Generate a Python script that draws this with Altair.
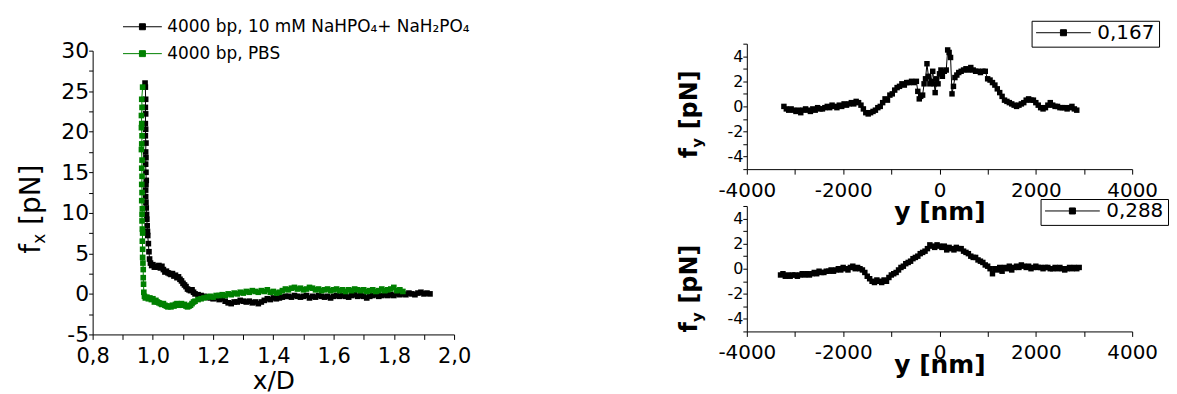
import altair as alt
import pandas as pd

FONT = "DejaVu Sans"

# ---------------- data: left panel (f_x vs x/D) ----------------
LABEL_BUF = "4000 bp, 10 mM NaHPO₄+ NaH₂PO₄"
LABEL_PBS = "4000 bp, PBS"

buf_x = [0.974, 0.975, 0.976, 0.975, 0.976, 0.975, 0.976, 0.975, 0.977, 0.976,
         0.977, 0.976, 0.977, 0.978, 0.977, 0.976, 0.976, 0.977, 0.978, 0.979,
         0.980, 0.981, 0.982, 0.983, 0.985, 0.987, 0.989, 0.992, 0.996, 1.000,
         1.005, 1.010, 1.015, 1.020, 1.025, 1.030, 1.035, 1.040, 1.045, 1.050,
         1.055, 1.060, 1.065, 1.070, 1.075, 1.080, 1.085, 1.090, 1.095, 1.100,
         1.105, 1.110, 1.115, 1.120, 1.125, 1.130, 1.135, 1.140, 1.150, 1.160,
         1.170, 1.180, 1.190, 1.200, 1.210, 1.220, 1.230, 1.240, 1.250, 1.260,
         1.270, 1.280, 1.290, 1.300, 1.310, 1.320, 1.330, 1.340, 1.350, 1.360,
         1.370, 1.380, 1.390, 1.400, 1.410, 1.420, 1.430, 1.440, 1.450, 1.460,
         1.470, 1.480, 1.490, 1.500, 1.510, 1.520, 1.530, 1.540, 1.550, 1.560,
         1.570, 1.580, 1.590, 1.600, 1.610, 1.620, 1.630, 1.640, 1.650, 1.660,
         1.670, 1.680, 1.690, 1.700, 1.710, 1.720, 1.730, 1.740, 1.750, 1.760,
         1.770, 1.780, 1.790, 1.800, 1.810, 1.820, 1.830, 1.840, 1.850, 1.860,
         1.870, 1.880, 1.890, 1.900, 1.910, 1.920]
buf_y = [26.0, 25.5, 24.0, 23.0, 22.2, 21.0, 20.3, 19.5, 18.6, 17.5,
         16.8, 16.0, 15.0, 14.0, 13.5, 12.8, 12.0, 11.3, 10.6, 9.8,
         9.2, 8.4, 7.7, 7.2, 6.2, 5.2, 4.3, 3.8, 3.5, 3.6,
         3.3, 3.4, 3.3, 3.5, 3.2, 3.4, 3.0, 2.7, 2.8, 2.6,
         2.5, 2.4, 2.5, 2.2, 2.3, 2.0, 2.1, 1.8, 1.6, 1.3,
         1.1, 0.9, 0.6, 0.5, 0.4, 0.5, 0.2, 0.0, -0.1, -0.2,
         -0.3, -0.4, -0.5, -0.6, -0.5, -0.7, -0.6, -0.9, -1.1, -1.2,
         -1.0, -1.0, -0.8, -0.9, -1.0, -0.9, -1.1, -1.0, -1.2, -1.0,
         -0.8, -0.6, -0.7, -0.5, -0.6, -0.5, -0.4, -0.3, -0.3, -0.4,
         -0.2, -0.3, -0.4, -0.3, -0.2, -0.5, -0.3, -0.4, -0.2, -0.3,
         -0.4, -0.3, -0.5, -0.3, -0.2, -0.3, -0.2, -0.3, -0.4, -0.2,
         -0.1, -0.3, -0.2, -0.3, -0.5, -0.3, -0.2, -0.1, -0.3, -0.2,
         -0.1, -0.2, -0.1, -0.2, 0.0, -0.1, 0.0, -0.1, 0.1, 0.0,
         -0.1, 0.1, 0.2, 0.0, 0.1, 0.0]

pbs_x = [0.966, 0.963, 0.964, 0.962, 0.963, 0.962, 0.964, 0.963, 0.962, 0.964,
         0.963, 0.964, 0.963, 0.964, 0.963, 0.965, 0.964, 0.964, 0.965, 0.966,
         0.965, 0.966, 0.966, 0.967, 0.968, 0.968, 0.969, 0.970, 0.972, 0.975,
         0.980, 0.985, 0.990, 0.995, 1.000, 1.005, 1.010, 1.015, 1.020, 1.025,
         1.030, 1.035, 1.040, 1.045, 1.050, 1.055, 1.060, 1.065, 1.070, 1.075,
         1.080, 1.085, 1.090, 1.095, 1.100, 1.105, 1.110, 1.115, 1.120, 1.125,
         1.130, 1.135, 1.140, 1.150, 1.160, 1.170, 1.180, 1.190, 1.200, 1.210,
         1.220, 1.230, 1.240, 1.250, 1.260, 1.270, 1.280, 1.290, 1.300, 1.310,
         1.320, 1.330, 1.340, 1.350, 1.360, 1.370, 1.380, 1.390, 1.400, 1.410,
         1.420, 1.430, 1.440, 1.450, 1.460, 1.470, 1.480, 1.490, 1.500, 1.510,
         1.520, 1.530, 1.540, 1.550, 1.560, 1.570, 1.580, 1.590, 1.600, 1.610,
         1.620, 1.630, 1.640, 1.650, 1.660, 1.670, 1.680, 1.690, 1.700, 1.710,
         1.720, 1.730, 1.740, 1.750, 1.760, 1.770, 1.780, 1.790, 1.800, 1.810,
         1.820, 1.830]
pbs_y = [25.5, 24.0, 23.0, 22.0, 21.0, 20.5, 19.5, 18.5, 17.8, 16.5,
         15.5, 14.5, 13.5, 12.5, 11.5, 10.5, 9.8, 9.0, 8.0, 7.5,
         6.5, 5.5, 4.5, 3.8, 3.0, 2.0, 1.2, 0.2, -0.3, -0.5,
         -0.4, -0.6, -0.5, -0.7, -0.6, -1.0, -0.8, -1.0, -1.1, -1.2,
         -1.3, -1.2, -1.4, -1.5, -1.6, -1.5, -1.6, -1.4, -1.5, -1.3,
         -1.2, -1.4, -1.3, -1.2, -1.4, -1.3, -1.5, -1.6, -1.5, -1.4,
         -1.2, -1.0, -0.9, -0.7, -0.6, -0.5, -0.4, -0.3, -0.4, -0.2,
         -0.2, -0.1, -0.2, 0.0, -0.1, 0.1, 0.0, 0.2, 0.1, 0.3,
         0.2, 0.4, 0.3, 0.2, 0.4, 0.3, 0.5, 0.2, 0.3, 0.1,
         0.2, 0.4, 0.6, 0.5, 0.7, 0.8, 0.6, 0.7, 0.5, 0.6,
         0.8, 0.7, 0.5, 0.6, 0.4, 0.5, 0.6, 0.4, 0.5, 0.6,
         0.4, 0.5, 0.3, 0.5, 0.4, 0.6, 0.5, 0.4, 0.5, 0.3,
         0.4, 0.5, 0.3, 0.4, 0.6, 0.4, 0.5, 0.6, 0.8, 0.4,
         0.5, 0.3]

# ---------------- data: right panels (f_y vs y) ----------------
LABEL_167 = "0,167"
LABEL_288 = "0,288"

a167_x = [-3230, -3180, -3130, -3080, -3030, -2980, -2930, -2880, -2830, -2780,
          -2730, -2680, -2630, -2580, -2530, -2480, -2430, -2380, -2330, -2280,
          -2230, -2180, -2130, -2080, -2030, -1980, -1930, -1880, -1830, -1780,
          -1730, -1680, -1630, -1580, -1530, -1480, -1430, -1380, -1330, -1280,
          -1230, -1180, -1130, -1080, -1030, -980, -930, -880, -830, -780,
          -730, -680, -630, -580, -530, -480, -450, -420, -390, -350,
          -320, -290, -260, -230, -200, -170, -140, -110, -90, -60,
          -30, 0, 30, 60, 100, 140, 170, 200, 230, 260,
          290, 320, 360, 400, 450, 500, 550, 600, 650, 700,
          750, 800, 850, 900, 950, 1000, 1050, 1100, 1150, 1200,
          1250, 1300, 1350, 1400, 1450, 1500, 1550, 1600, 1650, 1700,
          1750, 1800, 1850, 1900, 1950, 2000, 2050, 2100, 2150, 2200,
          2250, 2300, 2350, 2400, 2450, 2500, 2550, 2600, 2650, 2700,
          2750, 2800, 2850]
a167_y = [0.0, -0.2, -0.3, -0.2, -0.3, -0.4, -0.3, -0.5, -0.3, -0.2,
          -0.3, -0.4, -0.2, -0.3, -0.1, -0.2, -0.2, -0.1, 0.0, -0.1,
          0.1, 0.0, -0.1, 0.1, 0.0, 0.2, 0.1, 0.2, 0.3, 0.2,
          0.4, 0.3, 0.1, -0.2, -0.5, -0.6, -0.5, -0.4, -0.3, -0.1,
          0.0, 0.3, 0.6, 0.5, 0.9, 1.0, 1.3, 1.5, 1.6, 1.8,
          1.7, 1.9, 1.9, 2.0, 1.9, 2.0, 1.2, 0.6, 0.8, 0.9,
          1.8, 2.2, 3.4, 2.4, 1.8, 2.0, 2.8, 1.8, 1.1, 2.2,
          1.8, 2.6, 2.9, 2.4, 2.8, 2.9, 4.5, 4.3, 3.9, 1.0,
          1.6, 2.3, 2.5, 2.7, 2.8, 2.9, 3.0, 2.9, 3.1, 2.9,
          2.8, 2.8, 2.7, 2.8, 2.8, 2.2, 2.1, 1.9, 1.7, 1.4,
          1.1, 0.8, 0.5, 0.4, 0.3, 0.2, 0.1, 0.0, 0.1, 0.2,
          0.3, 0.5, 0.6, 0.5, 0.5, 0.3, 0.1, -0.1, -0.2, -0.1,
          0.1, 0.3, 0.1, 0.0, 0.0, -0.1, -0.1, -0.1, -0.2, -0.1,
          0.0, -0.2, -0.3]

a288_x = [-3300, -3250, -3200, -3150, -3100, -3050, -3000, -2950, -2900, -2850,
          -2800, -2750, -2700, -2650, -2600, -2550, -2500, -2450, -2400, -2350,
          -2300, -2250, -2200, -2150, -2100, -2050, -2000, -1950, -1900, -1850,
          -1800, -1750, -1700, -1650, -1600, -1550, -1500, -1450, -1400, -1350,
          -1300, -1250, -1200, -1150, -1100, -1050, -1000, -950, -900, -850,
          -800, -750, -700, -650, -600, -550, -500, -450, -400, -350,
          -300, -250, -200, -150, -100, -50, 0, 50, 100, 150,
          200, 250, 300, 350, 400, 450, 500, 550, 600, 650,
          700, 750, 800, 850, 900, 950, 1000, 1050, 1100, 1150,
          1200, 1250, 1300, 1350, 1400, 1450, 1500, 1550, 1600, 1650,
          1700, 1750, 1800, 1850, 1900, 1950, 2000, 2050, 2100, 2150,
          2200, 2250, 2300, 2350, 2400, 2450, 2500, 2550, 2600, 2650,
          2700, 2750, 2800, 2850, 2900]
a288_y = [-0.5, -0.4, -0.6, -0.5, -0.6, -0.5, -0.5, -0.6, -0.5, -0.4,
          -0.5, -0.4, -0.5, -0.4, -0.3, -0.4, -0.2, -0.3, -0.3, -0.2,
          -0.2, -0.1, -0.2, -0.1, 0.0, -0.1, 0.1, 0.0, -0.1, 0.1,
          0.2, 0.0, 0.1, 0.0, -0.1, -0.3, -0.6, -0.8, -1.0, -1.1,
          -0.9, -1.0, -1.1, -0.9, -1.0, -0.7, -0.5, -0.4, -0.3, -0.1,
          0.1, 0.2, 0.4, 0.5, 0.6, 0.8, 0.9, 1.0, 1.2, 1.3,
          1.4, 1.6, 1.9, 1.8, 1.7, 1.9, 1.8, 1.7, 1.8, 1.5,
          1.7, 1.6, 1.5, 1.7, 1.6, 1.6, 1.4, 1.3, 1.2, 1.0,
          0.9, 0.9, 0.7, 0.6, 0.5, 0.3, 0.2, 0.0, -0.4, 0.0,
          -0.1, 0.1, -0.2, 0.1, 0.0, 0.2, -0.1, 0.1, 0.2, 0.1,
          0.3, 0.2, 0.1, 0.2, 0.0, 0.1, 0.2, 0.1, 0.1, 0.0,
          0.1, 0.1, 0.0, 0.0, 0.1, 0.0, 0.1, 0.0, -0.1, 0.0,
          0.1, 0.0, 0.1, 0.0, 0.1]

# ---------------- tables ----------------
left_df = pd.concat([
    pd.DataFrame({"sample": LABEL_BUF, "x": buf_x, "y": buf_y, "i": range(len(buf_x))}),
    pd.DataFrame({"sample": LABEL_PBS, "x": pbs_x, "y": pbs_y, "i": range(len(pbs_x))}),
])
top_df = pd.DataFrame({"angle": LABEL_167, "x": a167_x, "y": a167_y, "i": range(len(a167_x))})
bot_df = pd.DataFrame({"angle": LABEL_288, "x": a288_x, "y": a288_y, "i": range(len(a288_x))})

# ---------------- styles ----------------
LEFT_SYMBOL = "M-1,0H1M-0.154,-0.154H0.154V0.154H-0.154Z"
RIGHT_SYMBOL = "M-1,0H1M-0.11,-0.11H0.11V0.11H-0.11Z"

axis_common = dict(grid=False, domainColor="black", tickColor="black", labelColor="black",
                   titleColor="black", domainWidth=1, tickWidth=1, labelFont=FONT, titleFont=FONT)


def title_layer(parts):
    layers = []
    for text, size, weight, xx, yy in parts:
        layers.append(
            alt.Chart(pd.DataFrame({"t": [text]}))
            .mark_text(text=text, font=FONT, fontSize=size, fontWeight=weight, angle=270,
                       align="left", baseline="alphabetic", color="black")
            .encode(x=alt.value(xx), y=alt.value(yy))
        )
    return layers


# ---------------- left chart ----------------
left_x_ticks = [0.8, 0.9, 1.0, 1.1, 1.2, 1.3, 1.4, 1.5, 1.6, 1.7, 1.8, 1.9, 2.0]
left_y_ticks = [-5, -2.5, 0, 2.5, 5, 7.5, 10, 12.5, 15, 17.5, 20, 22.5, 25, 27.5, 30]

left_legend = alt.Legend(orient="none", legendX=30, legendY=-27, title=None,
                         symbolType=LEFT_SYMBOL, symbolSize=1521, symbolStrokeWidth=1,
                         clipHeight=20, rowPadding=7, labelFont=FONT, labelFontSize=17,
                         labelColor="black", labelOffset=5, padding=0, labelLimit=500)
left_color = alt.Color("sample:N", scale=alt.Scale(domain=[LABEL_BUF, LABEL_PBS],
                                                    range=["black", "#008000"]),
                       legend=left_legend)

lx = alt.X("x:Q", scale=alt.Scale(domain=[0.8, 2.0], nice=False, zero=False),
           axis=alt.Axis(values=left_x_ticks,
                         labelExpr="round(datum.value*10)%2==0 ? replace(format(datum.value,'.1f'),'.',',') : ''",
                         title="x/D", titleFontSize=25, titleFontWeight="normal", titlePadding=2,
                         labelFontSize=21, tickSize=5, labelPadding=6, labelFlush=False,
                         **axis_common))
ly = alt.Y("y:Q", scale=alt.Scale(domain=[-5, 30], range=[292, 7], nice=False, zero=False),
           axis=alt.Axis(values=left_y_ticks,
                         labelExpr="datum.value % 5 == 0 ? toString(datum.value) : ''",
                         title=None, labelFontSize=22, tickSize=4, labelPadding=0,
                         labelFlush=False, **axis_common))

lbase = alt.Chart(left_df)
left_line = lbase.mark_line(strokeWidth=1).encode(x=lx, y=ly, color=left_color, order="i:Q")
left_pts = lbase.mark_point(shape="square", filled=True, size=32, opacity=1).encode(
    x=lx, y=ly, color=left_color)
left_titles = title_layer([
    ("f", 28, "normal", -53, 211),
    ("x", 17, "normal", -48, 201),
    ("[pN]", 28, "normal", -53, 182),
])
left = alt.layer(left_line, left_pts, *left_titles).properties(width=363, height=292)


# ---------------- right charts ----------------
def right_chart(df, label, legend_x, legend_y, title_start, title_pad):
    legend = alt.Legend(orient="none", legendX=legend_x, legendY=legend_y, title=None,
                        symbolType=RIGHT_SYMBOL, symbolSize=3025, symbolStrokeWidth=1,
                        clipHeight=16, labelFont=FONT, labelFontSize=20, labelColor="black",
                        labelOffset=6, padding=4, strokeColor="black", fillColor="white")
    color = alt.Color("angle:N", scale=alt.Scale(domain=[label], range=["black"]), legend=legend)
    x = alt.X("x:Q", scale=alt.Scale(domain=[-4000, 4000], nice=False, zero=False),
              axis=alt.Axis(values=[-4000, -3000, -2000, -1000, 0, 1000, 2000, 3000, 4000],
                            labelExpr="datum.value % 2000 == 0 ? toString(datum.value) : ''",
                            title="y [nm]", titleFontSize=25, titleFontWeight="bold",
                            titlePadding=title_pad, labelFontSize=20, tickSize=5, labelPadding=6,
                            labelFlush=False, **axis_common))
    y = alt.Y("y:Q", scale=alt.Scale(domain=[-5, 5], nice=False, zero=False),
              axis=alt.Axis(values=[-5, -4, -3, -2, -1, 0, 1, 2, 3, 4, 5],
                            labelExpr="datum.value % 2 == 0 ? toString(datum.value) : ''",
                            title=None, labelFontSize=16, tickSize=4, labelPadding=0,
                            labelFlush=False, **axis_common))
    base = alt.Chart(df)
    line = base.mark_line(strokeWidth=1).encode(x=x, y=y, color=color, order="i:Q")
    pts = base.mark_point(shape="square", filled=True, size=30, opacity=1).encode(x=x, y=y, color=color)
    titles = title_layer([
        ("f", 24, "bold", -50, title_start),
        ("y", 15, "bold", -45, title_start - 10.5),
        ("[pN]", 24, "bold", -50, title_start - 29),
    ])
    return alt.layer(line, pts, *titles).properties(width=387, height=126)


top = right_chart(top_df, LABEL_167, 286, -23, 115, 0)
bottom = right_chart(bot_df, LABEL_288, 295, -7, 127, -10)

right = alt.vconcat(top, bottom, spacing=37, bounds="flush").resolve_scale(
    color="independent").resolve_legend(color="independent")

chart = (
    alt.hconcat(left, right, spacing=294, bounds="flush")
    .resolve_scale(color="independent")
    .resolve_legend(color="independent")
    .properties(padding={"left": 10, "top": 8, "right": 0, "bottom": 0})
    .configure(font=FONT)
    .configure_view(stroke=None)
)

chart.save("out.html", embed_options={"renderer": "svg", "actions": False})
